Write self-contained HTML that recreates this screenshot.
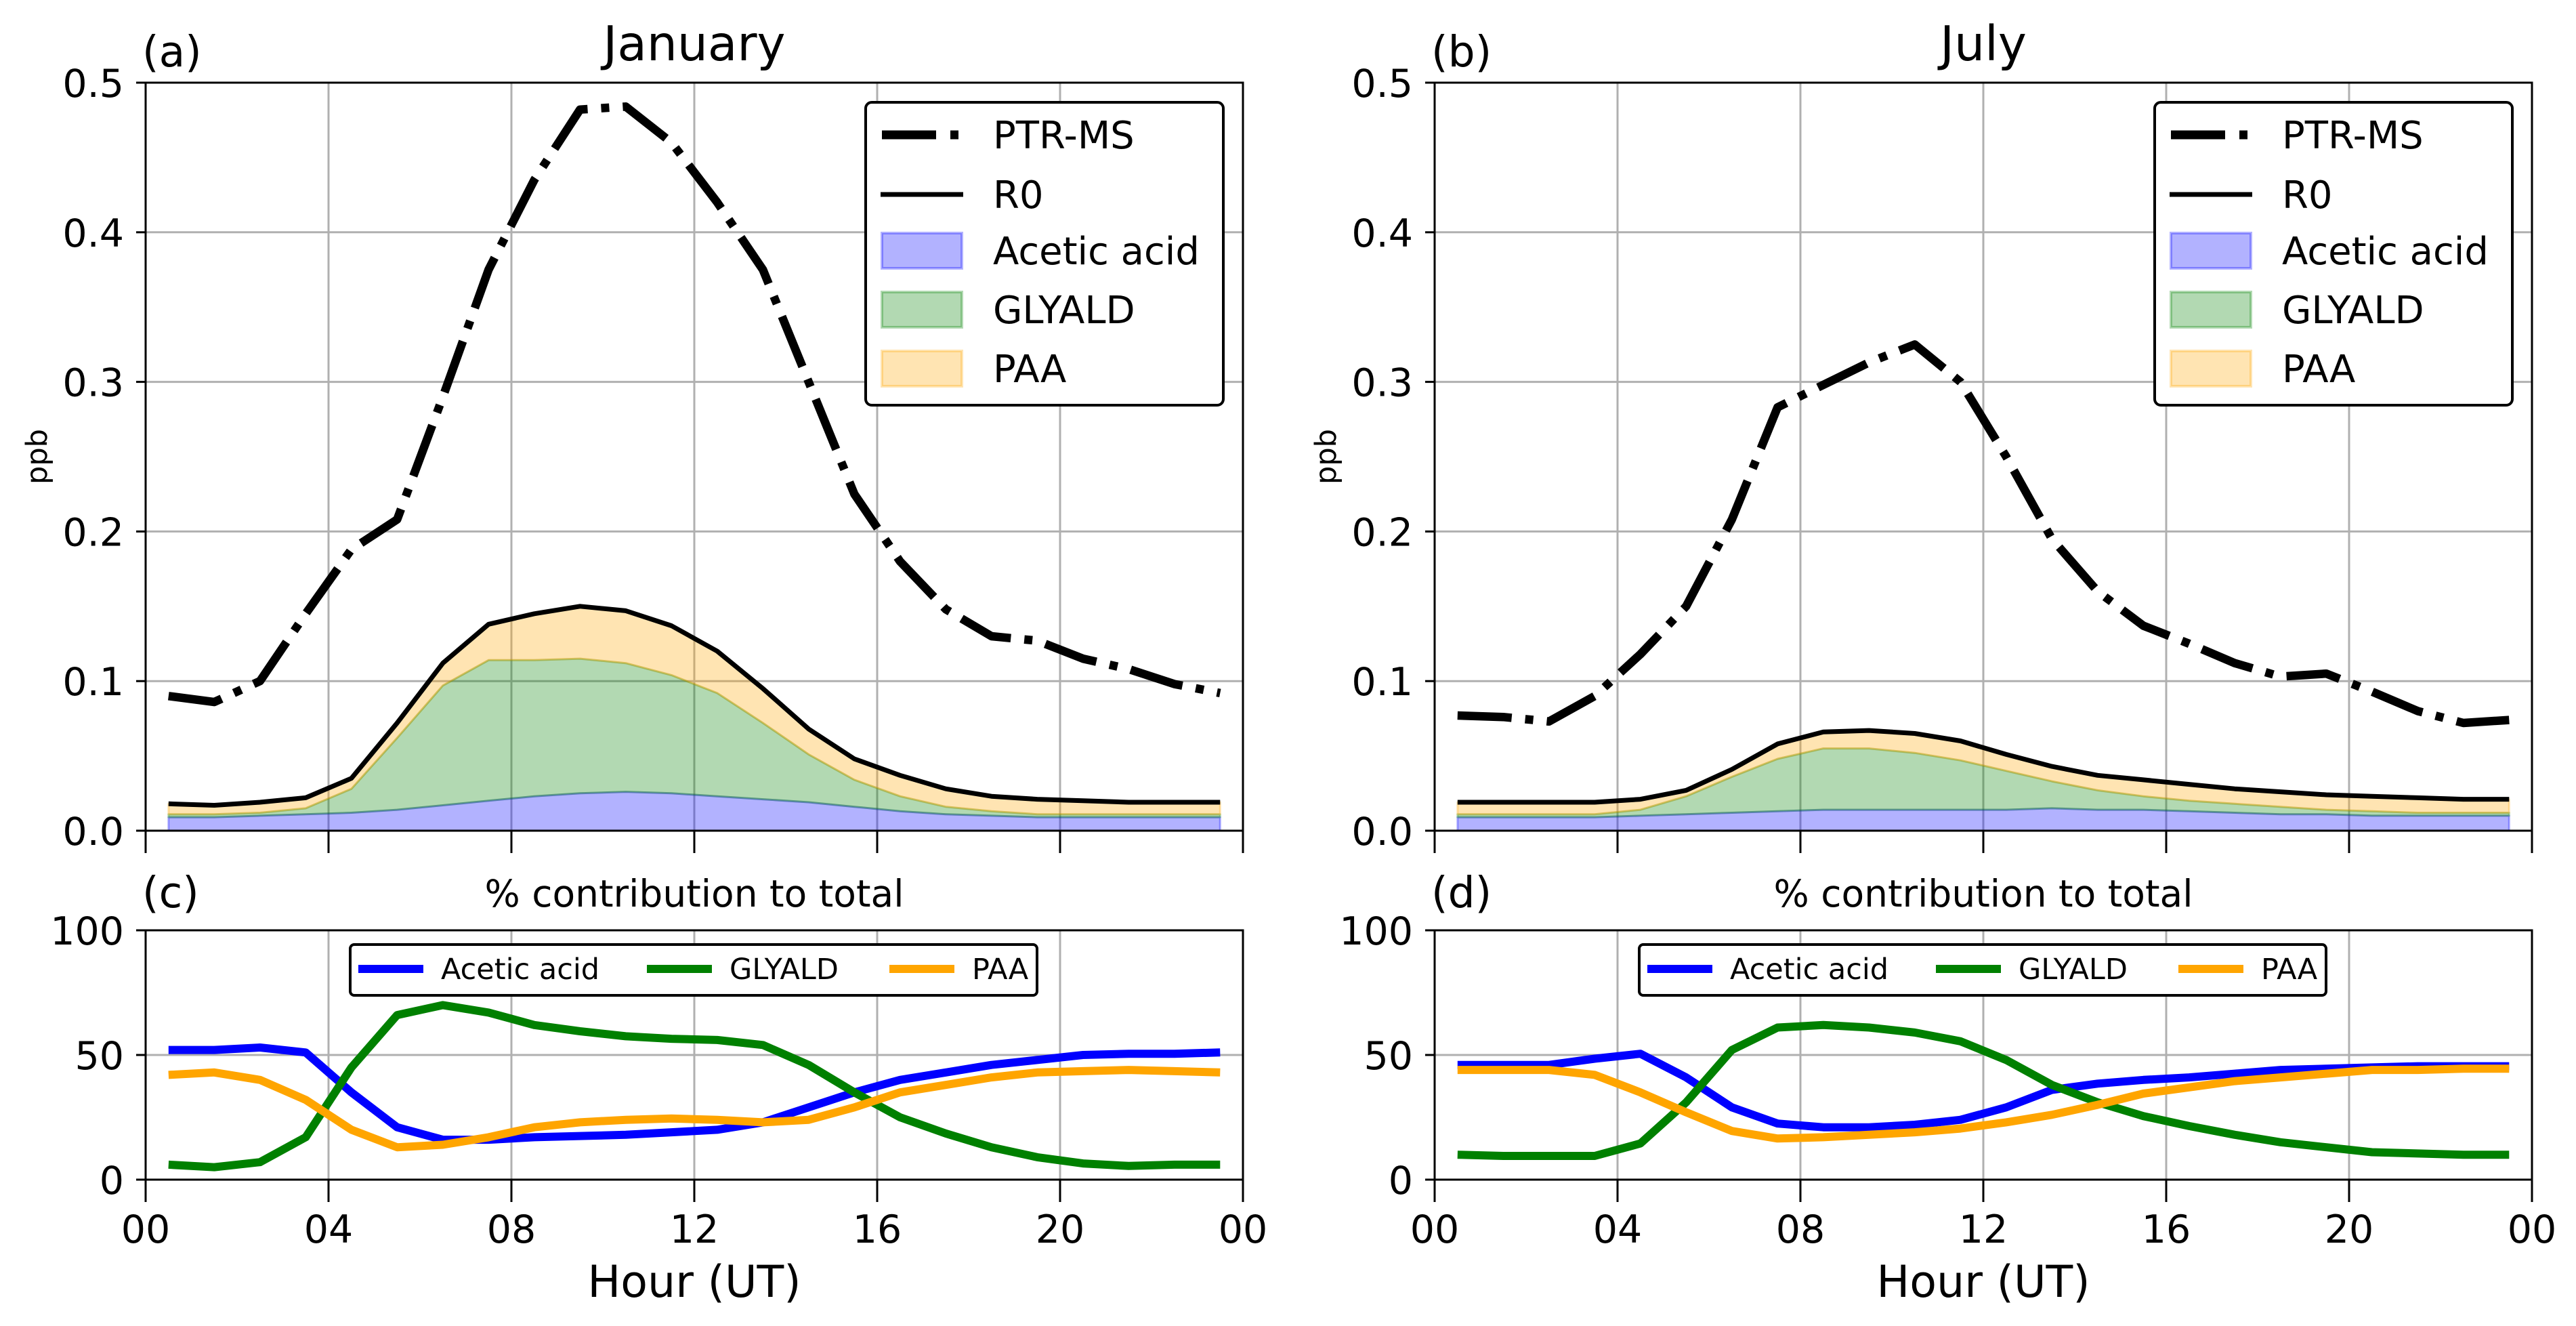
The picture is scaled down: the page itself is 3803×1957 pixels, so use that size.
<!DOCTYPE html>
<html><head><meta charset="utf-8"><style>
html,body{margin:0;padding:0;background:#fff;}
svg{display:block;font-family:"DejaVu Sans","Liberation Sans",sans-serif;}
</style></head><body>
<svg id="fig" width="3803" height="1957" viewBox="0 0 3803 1957" xmlns="http://www.w3.org/2000/svg"></svg>
<script>
// ---- data ----
const hours = [0.5,1.5,2.5,3.5,4.5,5.5,6.5,7.5,8.5,9.5,10.5,11.5,12.5,13.5,14.5,15.5,16.5,17.5,18.5,19.5,20.5,21.5,22.5,23.5];
const xTickValues = [0,4,8,12,16,20,24];
const xTickLabels = ["00","04","08","12","16","20","00"];
const ppbTicks = [0,0.1,0.2,0.3,0.4,0.5];
const ppbTickLabels = ["0.0","0.1","0.2","0.3","0.4","0.5"];
const pctTicks = [0,50,100];
const pctTickLabels = ["0","50","100"];

const janPTR = [0.090,0.086,0.100,0.145,0.188,0.208,0.290,0.375,0.435,0.482,0.484,0.460,0.420,0.375,0.300,0.225,0.180,0.148,0.130,0.127,0.115,0.108,0.098,0.092];
const janR0 = [0.018,0.017,0.019,0.022,0.035,0.072,0.112,0.138,0.145,0.150,0.147,0.137,0.120,0.095,0.068,0.048,0.037,0.028,0.023,0.021,0.020,0.019,0.019,0.019];
const janAcetic = [0.009,0.009,0.010,0.011,0.012,0.014,0.017,0.020,0.023,0.025,0.026,0.025,0.023,0.021,0.019,0.016,0.013,0.011,0.010,0.009,0.009,0.009,0.009,0.009];
const janGlyald = [0.002,0.002,0.002,0.004,0.016,0.048,0.080,0.094,0.091,0.090,0.086,0.079,0.069,0.051,0.032,0.018,0.010,0.005,0.003,0.002,0.002,0.002,0.002,0.002];
const janPAA = [0.007,0.006,0.007,0.007,0.007,0.010,0.015,0.024,0.031,0.035,0.035,0.033,0.028,0.023,0.017,0.014,0.014,0.012,0.010,0.010,0.009,0.008,0.008,0.008];

const julPTR = [0.077,0.076,0.073,0.090,0.118,0.150,0.208,0.283,0.298,0.313,0.325,0.300,0.250,0.195,0.160,0.137,0.125,0.112,0.103,0.105,0.093,0.080,0.072,0.074];
const julR0 = [0.019,0.019,0.019,0.019,0.021,0.027,0.041,0.058,0.066,0.067,0.065,0.060,0.051,0.043,0.037,0.034,0.031,0.028,0.026,0.024,0.023,0.022,0.021,0.021];
const julAcetic = [0.009,0.009,0.009,0.009,0.010,0.011,0.012,0.013,0.014,0.014,0.014,0.014,0.014,0.015,0.014,0.014,0.013,0.012,0.011,0.011,0.010,0.010,0.010,0.010];
const julGlyald = [0.002,0.002,0.002,0.002,0.004,0.012,0.024,0.035,0.041,0.041,0.038,0.033,0.026,0.018,0.013,0.009,0.007,0.006,0.005,0.003,0.003,0.002,0.002,0.002];
const julPAA = [0.008,0.008,0.008,0.008,0.007,0.004,0.005,0.010,0.011,0.012,0.013,0.013,0.011,0.010,0.010,0.011,0.011,0.010,0.010,0.010,0.010,0.010,0.009,0.009];

const janPctAcetic = [52,52,53,51,35,21,16,16,17,17.5,18,19,20,23,29,35,40,43,46,48,50,50.5,50.5,51];
const janPctGlyald = [6,5,7,17,45,66,70,67,62,59.5,57.5,56.5,56,54,46,35,25,18.5,13,9,6.5,5.5,6,6];
const janPctPAA = [42,43,40,32,20,13,14,17,21,23,24,24.5,24,23,24,29,35,38,41,43,43.5,44,43.5,43];
const julPctAcetic = [46,46,46,48.5,50.5,41,29,22.5,21,21,22,24,29,36,38.5,40,41,42.5,44,44.5,45,45.5,45.5,45.5];
const julPctGlyald = [10,9.5,9.5,9.5,14.5,31,52,61,62,61,59,55.5,48,38,31,25.5,21.5,18,15,13,11,10.5,10,10];
const julPctPAA = [44,44,44,42,35,27,19.5,16.5,17,18,19,20.5,23,26,30,34.5,37,39.5,41,42.5,44,44,44.5,44.5];

// ---- drawing ----
const NS = "http://www.w3.org/2000/svg";
const svg = document.getElementById('fig');
function mk(tag, attrs, parent, text){
  const e = document.createElementNS(NS, tag);
  for (const k in attrs) e.setAttribute(k, attrs[k]);
  if (text !== undefined) e.textContent = text;
  (parent || svg).appendChild(e);
  return e;
}
const W = 1620;
function xScale(x0){ return h => x0 + h / 24 * W; }
function yScale(top, bot, max){ return v => bot - v / max * (bot - top); }
function pts(xs, ys, fx, fy){ return xs.map((h,i)=>fx(h).toFixed(1)+','+fy(ys[i]).toFixed(1)).join(' '); }

function axesFrame(g, x0, top, bot, fy, yticks){
  const fx = xScale(x0);
  xTickValues.forEach(v=>{
    const l = mk('line',{x1:fx(v),x2:fx(v),y1:top,y2:bot,stroke:'#b0b0b0','stroke-width':3},g);
    
    
  });
  yticks.forEach(v=>{
    const l = mk('line',{x1:x0,x2:x0+W,y1:fy(v),y2:fy(v),stroke:'#b0b0b0','stroke-width':3},g);
    
    
  });
  return fx;
}
function axesTicks(g, x0, top, bot, fy, yticks, ylabels, showX){
  const fx = xScale(x0);
  const fr = mk('rect',{x:x0,y:top,width:W,height:bot-top,fill:'none',stroke:'#000','stroke-width':3},g);
  
  
  xTickValues.forEach((v,i)=>{
    mk('line',{x1:fx(v),x2:fx(v),y1:bot,y2:bot+33,stroke:'#000','stroke-width':3},g);
    if (showX){
      const t = mk('text',{x:fx(v),y:1834,'font-size':57,'text-anchor':'middle'},g,xTickLabels[i]);
      
      
    }
  });
  yticks.forEach((v,i)=>{
    mk('line',{x1:x0-14,x2:x0,y1:fy(v),y2:fy(v),stroke:'#000','stroke-width':3},g);
    const t = mk('text',{x:x0-32,y:fy(v)+21,'font-size':57,'text-anchor':'end'},g,ylabels[i]);
    
    
  });
}

function topPanel(x0, title, letter, PTR, R0, AC, GL, PA){
  const g = mk('g',{});  
  const top=122, bot=1226;
  const fy = yScale(top, bot, 0.5);
  const fx = axesFrame(g, x0, top, bot, fy, ppbTicks);
  const s1 = AC, s2 = AC.map((v,i)=>v+GL[i]), s3 = s2.map((v,i)=>v+PA[i]);
  const zero = hours.map(()=>0);
  function band(lo, hi, fill, stroke, name){
    const p = pts(hours, hi, fx, fy) + ' ' + pts(hours.slice().reverse(), lo.slice().reverse(), fx, fy);
    const e = mk('polygon',{points:p,fill:fill,stroke:stroke,'stroke-width':3,'stroke-linejoin':'round'},g);
    
    
  }
  band(zero, s1, 'rgba(0,0,255,0.3)', 'rgba(0,0,255,0.3)', 'acetic-acid-area');
  band(s1, s2, 'rgba(0,128,0,0.3)', 'rgba(0,128,0,0.3)', 'glyald-area');
  band(s2, s3, 'rgba(255,165,0,0.3)', 'rgba(255,165,0,0.3)', 'paa-area');
  const r0 = mk('polyline',{points:pts(hours,R0,fx,fy),fill:'none',stroke:'#000','stroke-width':7,'stroke-linejoin':'round'},g);
  
  
  const pl = mk('polyline',{points:pts(hours,PTR,fx,fy),fill:'none',stroke:'#000','stroke-width':12.5,'stroke-dasharray':'80 20 12 20','stroke-linejoin':'round'},g);
  
  
  axesTicks(g, x0, top, bot, fy, ppbTicks, ppbTickLabels, false);
  const tt = mk('text',{x:x0+W/2,y:89,'font-size':71,'text-anchor':'middle'},g,title);
  
  
  const lt = mk('text',{x:x0-5,y:98,'font-size':63},g,letter);
  
  
  const yl = mk('text',{x:0,y:0,'font-size':43,'text-anchor':'middle',transform:`translate(${x0-146},${(top+bot)/2}) rotate(-90)`},g,'ppb');
  
  
  const lx = x0+W-29-528, ly = 151;
  const lg = mk('g',{},g);  
  mk('rect',{x:lx,y:ly,width:528,height:447,rx:9,fill:'#fff',stroke:'#000','stroke-width':4},lg);
  const rows = [199,287,370,457,544];
  const names = ['PTR-MS','R0','Acetic acid','GLYALD','PAA'];
  const hx = lx+22, tx = lx+188;
  mk('line',{x1:hx+2,x2:hx+120,y1:rows[0],y2:rows[0],stroke:'#000','stroke-width':13,'stroke-dasharray':'80 21 12 30'},lg);
  mk('line',{x1:hx,x2:hx+122,y1:rows[1],y2:rows[1],stroke:'#000','stroke-width':7},lg);
  const pf = ['rgba(0,0,255,0.3)','rgba(0,128,0,0.3)','rgba(255,165,0,0.3)'];
  pf.forEach((c,i)=>{ mk('rect',{x:hx+2,y:rows[i+2]-26,width:118,height:52,fill:c,stroke:c,'stroke-width':4},lg); });
  names.forEach((n,i)=>{
    const t = mk('text',{x:tx,y:rows[i]+20,'font-size':56},lg,n);
    
    
  });
}

function pctPanel(x0, letter, A, G, P){
  const g = mk('g',{});  
  const top=1373, bot=1741;
  const fy = yScale(top, bot, 100);
  const fx = axesFrame(g, x0, top, bot, fy, pctTicks);
  [[A,'#0000ff','acetic-acid-pct-line'],[G,'#008000','glyald-pct-line'],[P,'#ffa500','paa-pct-line']].forEach(s=>{
    const l = mk('polyline',{points:pts(hours,s[0],fx,fy),fill:'none',stroke:s[1],'stroke-width':12,'stroke-linejoin':'round'},g);
    
    
  });
  axesTicks(g, x0, top, bot, fy, pctTicks, pctTickLabels, true);
  const tt = mk('text',{x:x0+W/2,y:1338,'font-size':55,'text-anchor':'middle'},g,'% contribution to total');
  
  
  const lt = mk('text',{x:x0-5,y:1339,'font-size':63},g,letter);
  
  
  const xl = mk('text',{x:x0+W/2,y:1914,'font-size':65,'text-anchor':'middle'},g,'Hour (UT)');
  
  
  const lg = mk('g',{},g);  
  const lx = x0+302;
  mk('rect',{x:lx,y:1394,width:1014,height:75,rx:6,fill:'#fff',stroke:'#000','stroke-width':4},lg);
  const ents = [['Acetic acid','#0000ff',12],['GLYALD','#008000',438],['PAA','#ffa500',796]];
  ents.forEach(e=>{
    mk('line',{x1:lx+e[2],x2:lx+e[2]+96,y1:1430,y2:1430,stroke:e[1],'stroke-width':12},lg);
    const t = mk('text',{x:lx+e[2]+122,y:1445,'font-size':43},lg,e[0]);
    
    
  });
}

topPanel(215,'January','(a)',janPTR,janR0,janAcetic,janGlyald,janPAA);
topPanel(2118,'July','(b)',julPTR,julR0,julAcetic,julGlyald,julPAA);
pctPanel(215,'(c)',janPctAcetic,janPctGlyald,janPctPAA);
pctPanel(2118,'(d)',julPctAcetic,julPctGlyald,julPctPAA);
</script>
</body></html>
